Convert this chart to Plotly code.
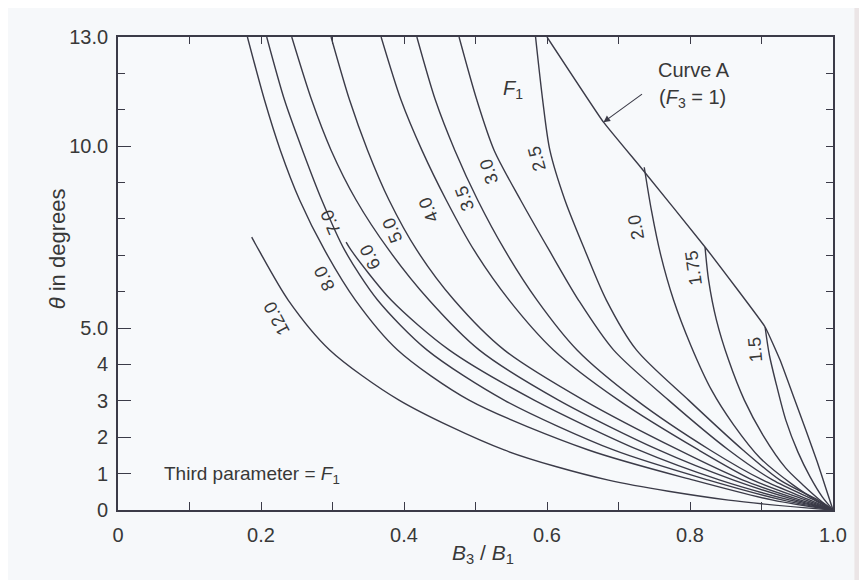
import plotly.graph_objects as go

# ---- data (x = B3/B1, y = theta in degrees) ----
c12_x = [0.187, 0.197, 0.238, 0.296, 0.393, 0.540, 0.686, 0.854, 1.0]
c12_y = [7.50, 7.14, 5.77, 4.40, 3.02, 1.65, 0.82, 0.27, 0.0]

c8_x = [0.181, 0.205, 0.227, 0.254, 0.289, 0.332, 0.391, 0.491, 0.658, 0.805, 0.916, 1.0]
c8_y = [13.0, 11.26, 9.89, 8.52, 7.14, 5.77, 4.40, 3.02, 1.65, 0.82, 0.27, 0.0]

c7_x = [0.208, 0.233, 0.258, 0.285, 0.317, 0.363, 0.432, 0.540, 0.693, 0.826, 0.930, 1.0]
c7_y = [13.0, 11.26, 9.89, 8.52, 7.14, 5.77, 4.40, 3.02, 1.65, 0.82, 0.27, 0.0]

cfree_x = [0.319, 0.326, 0.382, 0.463, 0.582, 0.728, 0.842, 0.940, 1.0]
cfree_y = [7.36, 7.14, 5.77, 4.40, 3.02, 1.65, 0.82, 0.27, 0.0]

c6_x = [0.243, 0.271, 0.298, 0.333, 0.379, 0.435, 0.505, 0.616, 0.756, 0.861, 0.948, 1.0]
c6_y = [13.0, 11.26, 9.89, 8.52, 7.14, 5.77, 4.40, 3.02, 1.65, 0.82, 0.27, 0.0]

c5_x = [0.298, 0.324, 0.349, 0.379, 0.418, 0.470, 0.540, 0.651, 0.784, 0.874, 0.955, 1.0]
c5_y = [13.0, 11.26, 9.89, 8.52, 7.14, 5.77, 4.40, 3.02, 1.65, 0.82, 0.27, 0.0]

c4_x = [0.368, 0.396, 0.425, 0.459, 0.498, 0.547, 0.609, 0.700, 0.812, 0.888, 0.962, 1.0]
c4_y = [13.0, 11.26, 9.89, 8.52, 7.14, 5.77, 4.40, 3.02, 1.65, 0.82, 0.27, 0.0]

c35_x = [0.418, 0.444, 0.471, 0.503, 0.541, 0.586, 0.642, 0.725, 0.828, 0.902, 0.968, 1.0]
c35_y = [13.0, 11.26, 9.89, 8.52, 7.14, 5.77, 4.40, 3.02, 1.65, 0.82, 0.27, 0.0]

c3_x = [0.477, 0.502, 0.526, 0.563, 0.603, 0.644, 0.693, 0.770, 0.854, 0.916, 0.974, 1.0]
c3_y = [13.0, 11.26, 9.89, 8.52, 7.14, 5.77, 4.40, 3.02, 1.65, 0.82, 0.27, 0.0]

c25_x = [0.584, 0.594, 0.604, 0.625, 0.653, 0.683, 0.725, 0.798, 0.874, 0.926, 0.979, 1.0]
c25_y = [13.0, 11.26, 9.89, 8.52, 7.14, 5.77, 4.40, 3.02, 1.65, 0.82, 0.27, 0.0]

c2_x = [0.736, 0.746, 0.759, 0.777, 0.801, 0.830, 0.861, 0.898, 0.944, 0.976, 1.0]
c2_y = [9.42, 8.24, 7.01, 5.77, 4.53, 3.30, 2.34, 1.43, 0.69, 0.27, 0.0]

c175_x = [0.821, 0.826, 0.837, 0.854, 0.876, 0.902, 0.934, 0.958, 0.982, 1.0]
c175_y = [7.23, 6.32, 5.22, 4.12, 3.02, 2.06, 1.15, 0.69, 0.27, 0.0]

c15_x = [0.905, 0.911, 0.921, 0.934, 0.951, 0.968, 0.985, 1.0]
c15_y = [5.03, 4.26, 3.43, 2.47, 1.59, 0.91, 0.36, 0.0]

cA_x = [0.600, 0.679, 0.731, 0.821, 0.905, 0.926, 0.944, 0.962, 0.978, 0.990, 1.0]
cA_y = [13.0, 10.66, 9.42, 7.23, 5.03, 4.12, 3.16, 2.20, 1.32, 0.60, 0.0]

curve_labels = ["12.0", "8.0", "7.0", "6.0", "5.0", "4.0", "3.5", "3.0", "2.5", "2.0", "1.75", "1.5"]
label_x = [0.222, 0.289, 0.297, 0.353, 0.384, 0.435, 0.485, 0.519, 0.586, 0.725, 0.805, 0.891]
label_y = [5.27, 6.37, 7.90, 6.95, 7.69, 8.24, 8.57, 9.29, 9.67, 7.77, 6.65, 4.40]
label_angle = [-118, -115, -112, -115, -112, -112, -110, -108, -105, -100, -98, -95]

x_ticks = [0, 0.2, 0.4, 0.6, 0.8, 1.0]
x_ticktext = ["0", "0.2", "0.4", "0.6", "0.8", "1.0"]
y_ticks = [0, 1, 2, 3, 4, 5, 10, 13]
y_ticktext = ["0", "1", "2", "3", "4", "5.0", "10.0", "13.0"]

LINE = "#3b3b48"
TXT = "#383838"
FONT = "Liberation Sans, Arial, sans-serif"

fig = go.Figure()
family = [(c12_x, c12_y), (c8_x, c8_y), (c7_x, c7_y), (cfree_x, cfree_y), (c6_x, c6_y),
          (c5_x, c5_y), (c4_x, c4_y), (c35_x, c35_y), (c3_x, c3_y), (c25_x, c25_y),
          (c2_x, c2_y), (c175_x, c175_y), (c15_x, c15_y)]
for cx, cy in family:
    fig.add_trace(go.Scatter(x=cx, y=cy, mode="lines",
                             line=dict(color=LINE, width=1.4, shape="spline", smoothing=0.8),
                             hoverinfo="skip", showlegend=False))
# Curve A (F3 = 1), the envelope
fig.add_trace(go.Scatter(x=cA_x, y=cA_y, mode="lines",
                         line=dict(color=LINE, width=1.4, shape="spline", smoothing=0.3),
                         hoverinfo="skip", showlegend=False))

# invisible trace carrying the mirrored (top / right) tick axes
fig.add_trace(go.Scatter(x=[0, 1], y=[0, 13], mode="markers", marker=dict(opacity=0),
                         xaxis="x2", yaxis="y2", showlegend=False, hoverinfo="skip"))

for t, lx, ly, ang in zip(curve_labels, label_x, label_y, label_angle):
    fig.add_annotation(x=lx, y=ly, text=t, textangle=ang, showarrow=False,
                       font=dict(family=FONT, size=18, color=TXT))

fig.add_annotation(x=0.061, y=0.96, text="Third parameter = <i>F</i><sub>1</sub>", xanchor="left",
                   showarrow=False, font=dict(family=FONT, size=19, color=TXT))
fig.add_annotation(x=0.752, y=12.09, text="Curve A", xanchor="left",
                   showarrow=False, font=dict(family=FONT, size=20, color=TXT))
fig.add_annotation(x=0.754, y=11.30, text="(<i>F</i><sub>3</sub> = 1)", xanchor="left",
                   showarrow=False, font=dict(family=FONT, size=20, color=TXT))
fig.add_annotation(x=0.553, y=11.55, text="<i>F</i><sub>1</sub>",
                   showarrow=False, font=dict(family=FONT, size=20, color=TXT))
fig.add_annotation(x=0.679, y=10.66, ax=0.735, ay=11.46, axref="x", ayref="y",
                   text="", showarrow=True, arrowhead=2, arrowsize=1.2, arrowwidth=1.1,
                   arrowcolor=LINE)

# axis titles
fig.add_annotation(xref="paper", yref="paper", x=0.51, y=-0.125,
                   text="<i>B</i><sub>3</sub> / <i>B</i><sub>1</sub>",
                   showarrow=False, font=dict(family=FONT, size=21, color=TXT))
fig.add_annotation(xref="paper", yref="paper", x=-0.105, y=0.552, text="<i>θ</i> in degrees",
                   textangle=-90, showarrow=False, font=dict(family=FONT, size=22, color=TXT))

# faint scan shadow along the right edge
fig.add_shape(type="rect", xref="paper", yref="paper", x0=1.03, x1=1.06, y0=-0.2, y1=1.1,
              fillcolor="rgba(225,214,214,0.55)", line=dict(width=0), layer="below")

fig.update_layout(
    width=859, height=572,
    margin=dict(l=110, r=34, t=29, b=70),
    paper_bgcolor="#f6f8fa", plot_bgcolor="#f7f9fb",
    font=dict(family=FONT, size=20, color=TXT),
    xaxis=dict(range=[0, 1], tickvals=x_ticks, ticktext=x_ticktext, ticks="inside", ticklen=8,
               tickcolor=LINE, showline=True, linecolor=LINE, linewidth=1.8, mirror=True,
               showgrid=False, zeroline=False, ticklabelstandoff=6,
               minor=dict(tickvals=[0.1, 0.3, 0.5, 0.7, 0.9], ticks="inside", ticklen=8,
                          tickcolor=LINE)),
    yaxis=dict(range=[0, 13], tickvals=y_ticks, ticktext=y_ticktext, ticks="inside", ticklen=13,
               tickcolor=LINE, showline=True, linecolor=LINE, linewidth=1.8, mirror=True,
               showgrid=False, zeroline=False, ticklabelstandoff=4,
               minor=dict(tickvals=[6, 7, 8, 9, 11, 12], ticks="inside", ticklen=7,
                          tickcolor=LINE)),
    xaxis2=dict(range=[0, 1], overlaying="x", side="top", tickvals=[0.1 * i for i in range(1, 10)],
                ticks="inside", ticklen=7, tickcolor=LINE, showticklabels=False, showgrid=False,
                zeroline=False, showline=False),
    yaxis2=dict(range=[0, 13], overlaying="y", side="right", tickvals=list(range(1, 13)),
                ticks="inside", ticklen=7, tickcolor=LINE, showticklabels=False, showgrid=False,
                zeroline=False, showline=False),
)
fig.write_html("out.html")
